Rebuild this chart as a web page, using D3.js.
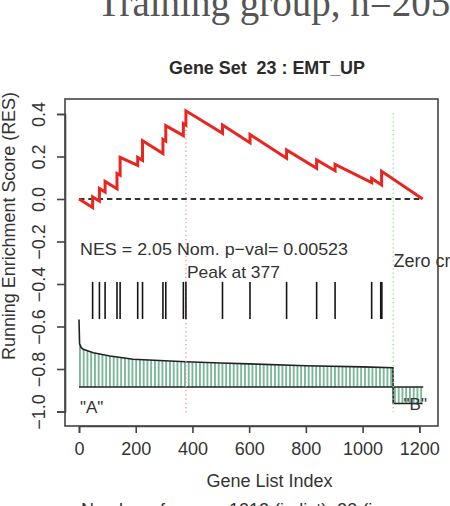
<!DOCTYPE html>
<html>
<head>
<meta charset="utf-8">
<script src="https://cdn.jsdelivr.net/npm/d3@7"></script>
<style>
  html, body { margin: 0; padding: 0; background: #fff; }
  svg { display: block; }
  text { font-family: "Liberation Sans", Arial, Helvetica, sans-serif; fill: #333; white-space: pre; }
</style>
</head>
<body>
<script>
// ---------- data ----------
const resIndex = [0, 48, 48, 72, 72, 92, 92, 134, 134, 145, 145, 207, 207, 224, 224, 296, 296, 306, 306, 368, 368, 377, 377,
  506, 506, 603, 603, 732, 732, 838, 838, 903, 903, 1032, 1032, 1067, 1067, 1212];
const resValue = [0, -0.040, 0.010, -0.010, 0.050, 0.033, 0.083, 0.048, 0.120, 0.112, 0.196, 0.158, 0.196, 0.182, 0.274,
  0.214, 0.280, 0.272, 0.345, 0.298, 0.355, 0.348, 0.415,
  0.309, 0.348, 0.265, 0.304, 0.192, 0.231, 0.144, 0.184, 0.133, 0.163, 0.077, 0.097, 0.066, 0.130, 0.0];
const hitIndex = [48, 72, 92, 134, 145, 207, 224, 296, 306, 368, 377, 506, 603, 732, 838, 903, 1032, 1064, 1068];
const metricIndex = [0, 2, 8, 15, 50, 109, 191, 377, 500, 600, 800, 1000, 1107, 1108, 1212];
const metricValue = [-0.567, -0.680, -0.700, -0.707, -0.724, -0.739, -0.754, -0.766, -0.772, -0.776, -0.785, -0.790, -0.794, -0.962, -0.962];
const metricBaseline = -0.885;
const peakIndex = 377;
const peakValue = 0.405;
const zeroCross = 1108;
const nGenes = 1212;
const xTicks = [0, 200, 400, 600, 800, 1000, 1200];
const yTicks = [-1.0, -0.8, -0.6, -0.4, -0.2, 0.0, 0.2, 0.4];
const yTickLabels = ["\u22121.0", "\u22120.8", "\u22120.6", "\u22120.4", "\u22120.2", "0.0", "0.2", "0.4"];
const pageTitle = "Training group, n=205";
const chartTitle = "Gene Set  23 : EMT_UP";
const nesText = "NES = 2.05 Nom. p\u2212val= 0.00523";
const peakText = "Peak at 377";
const zeroText = "Zero crossing at 1108";
const xLabel = "Gene List Index";
const yLabel = "Running Enrichment Score (RES)";
const subText = "Number of genes: 1212 (in list), 23 (in gene set)";

// ---------- layout ----------
const W = 450, H = 506;
const box = { left: 65, right: 438, top: 99, bottom: 426 };

const svg = d3.select("body").append("svg").attr("width", W).attr("height", H);

const x = d3.scaleLinear().domain([0, 1200]).range([79, 419.3]);
const y = d3.scaleLinear().domain([-1, 0.4]).range([411.5, 114]);

// pattern for the ranked-metric hatch
const defs = svg.append("defs");
const pat = defs.append("pattern").attr("id", "hatch").attr("patternUnits", "userSpaceOnUse")
  .attr("x", 79).attr("y", 0).attr("width", 3.75).attr("height", 10);
pat.append("rect").attr("width", 3.75).attr("height", 10).attr("fill", "#ffffff");
pat.append("line").attr("x1", 0.9).attr("x2", 0.9).attr("y1", 0).attr("y2", 10)
  .attr("stroke", "#7ab698").attr("stroke-width", 1.9);

// page title
svg.append("text").attr("x", 97).attr("y", 16)
  .style("font-family", "'Liberation Serif', 'Times New Roman', serif")
  .style("font-size", "39px").style("fill", "#555").text(pageTitle);

// chart title
svg.append("text").attr("x", 267).attr("y", 73.5).attr("text-anchor", "middle")
  .style("font-size", "17.5px").style("font-weight", "bold").style("fill", "#2a2a2a")
  .attr("textLength", 196).attr("lengthAdjust", "spacingAndGlyphs").text(chartTitle);

// metric area
const metricPts = metricIndex.map((d, i) => [d, metricValue[i]]);
svg.append("path")
  .datum(metricPts)
  .attr("fill", "url(#hatch)")
  .attr("d", d3.area().x(d => x(d[0])).y0(y(metricBaseline)).y1(d => y(d[1])));
svg.append("path")
  .datum(metricPts)
  .attr("fill", "none").attr("stroke", "#222").attr("stroke-width", 1.6)
  .attr("d", d3.line().x(d => x(d[0])).y(d => y(d[1])));
svg.append("line")
  .attr("x1", x(0)).attr("x2", x(nGenes + 2)).attr("y1", y(metricBaseline)).attr("y2", y(metricBaseline))
  .attr("stroke", "#222").attr("stroke-width", 1.6);

// zero dashed line
svg.append("line")
  .attr("x1", x(0)).attr("x2", x(nGenes)).attr("y1", y(0)).attr("y2", y(0))
  .attr("stroke", "#333").attr("stroke-width", 2).attr("stroke-dasharray", "5.5,3.8");

// peak and zero-cross dotted lines
svg.append("line")
  .attr("x1", x(peakIndex)).attr("x2", x(peakIndex)).attr("y1", y(peakValue)).attr("y2", y(-1.015))
  .attr("stroke", "#f08a8a").attr("stroke-width", 1.3).attr("stroke-dasharray", "1.2,3");
svg.append("line")
  .attr("x1", x(zeroCross)).attr("x2", x(zeroCross)).attr("y1", y(peakValue)).attr("y2", y(-1.015))
  .attr("stroke", "#9ad89a").attr("stroke-width", 1.3).attr("stroke-dasharray", "1.2,3");

// hit markers
svg.append("g").selectAll("line").data(hitIndex).join("line")
  .attr("x1", d => x(d)).attr("x2", d => x(d))
  .attr("y1", y(-0.39)).attr("y2", y(-0.565))
  .attr("stroke", "#151515").attr("stroke-width", 1.6);

// running enrichment score
const resPts = resIndex.map((d, i) => [d, resValue[i]]);
svg.append("path")
  .datum(resPts)
  .attr("fill", "none").attr("stroke", "#e8261f").attr("stroke-width", 3)
  .attr("stroke-linejoin", "miter").attr("stroke-miterlimit", 3)
  .attr("d", d3.line().x(d => x(d[0])).y(d => y(d[1])));

// annotations
svg.append("text").attr("x", 80).attr("y", 255)
  .style("font-size", "17px").attr("textLength", 268).attr("lengthAdjust", "spacingAndGlyphs").text(nesText);
svg.append("text").attr("x", x(peakIndex) + 1).attr("y", 277.5)
  .style("font-size", "17px").attr("textLength", 93).attr("lengthAdjust", "spacingAndGlyphs").text(peakText);
svg.append("text").attr("x", 393.5).attr("y", 267)
  .style("font-size", "18px").text(zeroText);
svg.append("text").attr("x", 80).attr("y", 413)
  .style("font-size", "17px").text('"A"');
svg.append("text").attr("x", 427).attr("y", 410).attr("text-anchor", "end")
  .style("font-size", "17px").text('"B"');

// frame
svg.append("rect")
  .attr("x", box.left).attr("y", box.top).attr("width", box.right - box.left).attr("height", box.bottom - box.top)
  .attr("fill", "none").attr("stroke", "#444").attr("stroke-width", 1.6);

// x axis
const gx = svg.append("g").attr("transform", `translate(0,${box.bottom})`)
  .call(d3.axisBottom(x).tickValues(xTicks).tickSize(7).tickFormat(d3.format("d")));
gx.select(".domain").attr("stroke", "#444").attr("stroke-width", 1.6);
gx.selectAll(".tick line").attr("stroke", "#444").attr("stroke-width", 1.6);
gx.selectAll(".tick text").attr("y", 29).attr("dy", 0)
  .style("font-size", "18px").style("font-family", "'Liberation Sans', Arial, sans-serif").attr("fill", "#333");

// y axis
const gy = svg.append("g").attr("transform", `translate(${box.left},0)`)
  .call(d3.axisLeft(y).tickValues(yTicks).tickSize(8).tickFormat((d, i) => yTickLabels[i]));
gy.select(".domain").attr("stroke", "#444").attr("stroke-width", 1.6);
gy.selectAll(".tick line").attr("stroke", "#444").attr("stroke-width", 1.6);
gy.selectAll(".tick text")
  .attr("x", null).attr("dy", 0).attr("text-anchor", "middle")
  .attr("transform", "translate(-20,0) rotate(-90)")
  .style("font-size", "18px").style("font-family", "'Liberation Sans', Arial, sans-serif").attr("fill", "#333");

// axis titles
svg.append("text").attr("x", 269.5).attr("y", 486.5).attr("text-anchor", "middle")
  .style("font-size", "18px").text(xLabel);
svg.append("text").attr("transform", "translate(15,226) rotate(-90)").attr("text-anchor", "middle")
  .style("font-size", "18px").attr("textLength", 268).attr("lengthAdjust", "spacingAndGlyphs").text(yLabel);
svg.append("text").attr("x", 81).attr("y", 516)
  .style("font-size", "18px").text(subText);
</script>
</body>
</html>
